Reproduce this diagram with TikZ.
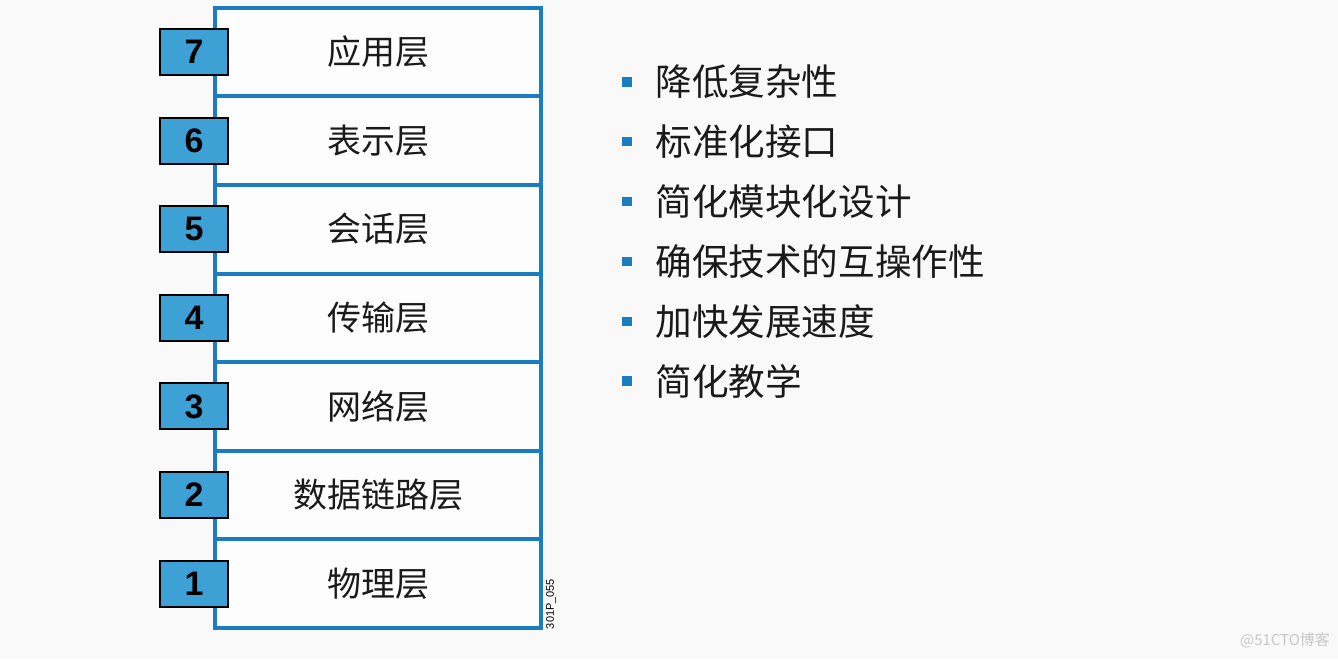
\documentclass[tikz,border=0pt]{standalone}
\usepackage{fontspec}
\setmainfont{Liberation Sans}
\newfontfamily\cjk{Noto Sans CJK SC}
\usetikzlibrary{positioning}
\definecolor{osiblue}{HTML}{1B7DC0}
\definecolor{numfill}{HTML}{3DA1D5}
\definecolor{bgcol}{HTML}{F8F9F8}
\definecolor{inkcol}{HTML}{1A1A1A}

\tikzset{
  layerbox/.style={draw=osiblue, line width=2pt, fill=white!60!bgcol, outer sep=0pt, inner sep=0pt,
    minimum width=163pt, minimum height=44.3pt, text=inkcol, font=\cjk\fontsize{17}{17}\selectfont},
  numbox/.style={draw=black, line width=1pt, fill=numfill, inner sep=0pt,
    minimum width=34pt, minimum height=23pt, font=\bfseries\fontsize{17}{17}\selectfont},
  bulletsq/.style={fill=osiblue, inner sep=0pt, minimum size=4.6pt},
  bullettext/.style={anchor=west, inner sep=0pt, text=inkcol, font=\cjk\fontsize{18.3}{18.3}\selectfont},
}

\begin{document}
\begin{tikzpicture}[x=0.5pt, y=-0.5pt]
  \fill[bgcol] (0,0) rectangle (1338,659);

  % the seven layers
  \node[layerbox] (l7) at (378,52) {应用层};
  \node[layerbox, below=0pt of l7] (l6) {表示层};
  \node[layerbox, below=0pt of l6] (l5) {会话层};
  \node[layerbox, below=0pt of l5] (l4) {传输层};
  \node[layerbox, below=0pt of l4] (l3) {网络层};
  \node[layerbox, below=0pt of l3] (l2) {数据链路层};
  \node[layerbox, below=0pt of l2] (l1) {物理层};

  % layer numbers
  \foreach \n in {1,...,7}
    \node[numbox, xshift=-10.5pt] (n\n) at (l\n.west) {\n};

  \node[rotate=90, inner sep=0pt, font=\fontsize{5.5}{5.5}\selectfont] (tag) at (551,604) {301P\_055};

  % benefits
  \node[bulletsq] (b1) at (627,82) {};
  \node[bulletsq, below=24.9pt of b1] (b2) {};
  \node[bulletsq, below=24.9pt of b2] (b3) {};
  \node[bulletsq, below=24.9pt of b3] (b4) {};
  \node[bulletsq, below=24.9pt of b4] (b5) {};
  \node[bulletsq, below=24.9pt of b5] (b6) {};
  \node[bullettext, right=11.5pt of b1] (t1) {降低复杂性};
  \node[bullettext, right=11.5pt of b2] (t2) {标准化接口};
  \node[bullettext, right=11.5pt of b3] (t3) {简化模块化设计};
  \node[bullettext, right=11.5pt of b4] (t4) {确保技术的互操作性};
  \node[bullettext, right=11.5pt of b5] (t5) {加快发展速度};
  \node[bullettext, right=11.5pt of b6] (t6) {简化教学};

  \node[text=black!22, inner sep=0pt, font=\cjk\fontsize{7.5}{7.5}\selectfont] (wm) at (1285,640) {@51CTO博客};
\end{tikzpicture}
\end{document}
